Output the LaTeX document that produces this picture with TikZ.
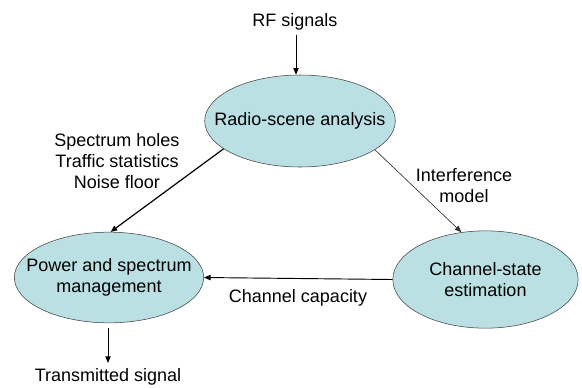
\documentclass[tikz,border=0pt]{standalone}
\usepackage{fontspec}
\setmainfont{Liberation Sans}
\usetikzlibrary{shapes.geometric,arrows.meta}
\definecolor{scenefill}{RGB}{187,224,228}

\begin{document}
\begin{tikzpicture}[x=0.75pt, y=-0.75pt, every node/.style={font=\fontsize{13.5}{15.75}\selectfont}]
\tikzstyle{state}=[ellipse, draw=black!75, fill=scenefill, inner sep=0pt]
\tikzstyle{flow}=[draw=black, line width=0.7pt, -{Triangle[length=5pt,width=4pt]}]
\tikzstyle{tag}=[align=center, inner sep=1pt]
\useasboundingbox (0,0) rectangle (582,387);
% the three stages
\node [state, minimum width=143pt, minimum height=69pt,
  label={[tag]center:Radio-scene analysis}] (scene) at (300,121) {};
\node [state, minimum width=142pt, minimum height=68pt,
  label={[tag]center:Power and spectrum\\management}] (power) at (109,277.5) {};
\node [state, minimum width=139pt, minimum height=73pt,
  label={[tag]center:Channel-state\\estimation}] (chan) at (485.5,279.5) {};
% inputs and outputs
\node [tag] (rf) at (295,22) {RF signals};
\node [tag] (tx) at (108,377) {Transmitted signal};
\draw [flow, shorten <=2pt] (rf.south -| 296,0) -- (296,75 |- scene.north);
\draw [flow, shorten <=4pt, shorten >=3pt] (power.south -| tx) -- (tx.north);
% links between stages
\draw [flow, line width=0.9pt] (scene.200) -- (power.88);
\draw [flow, line width=0.5pt, draw=black!80] (scene.339) -- (chan.117);
\draw [flow] (chan.west) -- (power.east);
% link labels
\node [tag] (holes) at (117,161) {Spectrum holes\\Traffic statistics\\Noise floor};
\node [tag] (intf) at (464,186) {Interference\\model};
\node [tag] (cap) at (298,298) {Channel capacity};
\end{tikzpicture}
\end{document}
